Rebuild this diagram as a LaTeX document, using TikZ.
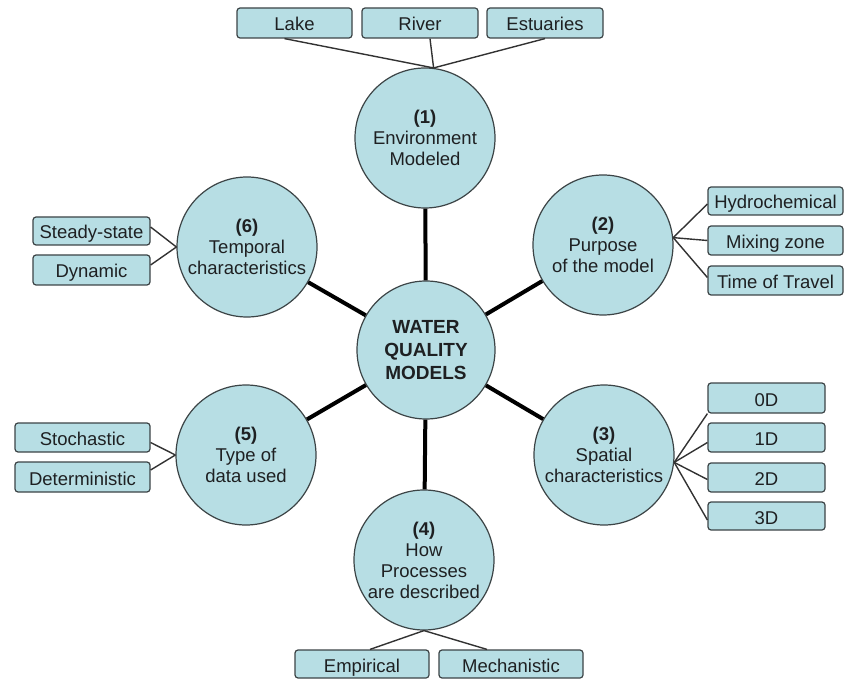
\documentclass[tikz,border=0pt]{standalone}
\usepackage{fontspec}
\setmainfont{Liberation Sans}
\definecolor{fillc}{RGB}{183,222,228}
\definecolor{bord}{RGB}{60,68,70}
\definecolor{txt}{RGB}{30,32,34}
\definecolor{linec}{RGB}{50,50,50}
\begin{document}
\begin{tikzpicture}[x=1pt,y=-1pt,
  circ/.style={circle,draw=bord,fill=fillc,line width=1.2pt,minimum size=140pt,inner sep=0pt,align=center,font=\fontsize{18.5}{21}\selectfont,text=txt},
  box/.style={rectangle,rounded corners=3pt,draw=bord,fill=fillc,line width=1.2pt,inner sep=0pt,text height=16pt,text depth=0pt,font=\fontsize{18.5}{20}\selectfont,text=txt},
  hub link/.style={line width=4pt,draw=black},
  leaf link/.style={line width=1.4pt,draw=linec}]
\useasboundingbox (0,0) rectangle (844,679);

% circles
\node[circ,minimum size=138pt,font=\bfseries\fontsize{19}{23}\selectfont] (c0) at (426,350) {WATER\\QUALITY\\MODELS};
\node[circ] (c1) at (425,138) {\textbf{(1)}\\Environment\\Modeled};
\node[circ] (c2) at (603,245) {\textbf{(2)}\\Purpose\\of the model};
\node[circ] (c3) at (604,455) {\textbf{(3)}\\Spatial\\characteristics};
\node[circ] (c4) at (424,560) {\textbf{(4)}\\How\\Processes\\are described};
\node[circ] (c5) at (246,455) {\textbf{(5)}\\Type of\\data used};
\node[circ] (c6) at (247,247) {\textbf{(6)}\\Temporal\\characteristics};

% boxes
\node[box,minimum width=115pt,minimum height=30pt] (lake) at (294.5,23) {Lake};
\node[box,minimum width=116pt,minimum height=30pt] (river) at (420,23) {River};
\node[box,minimum width=116pt,minimum height=30pt] (estu) at (545,23) {Estuaries};

\node[box,minimum width=135pt,minimum height=28pt] (hyd) at (775.5,201) {Hydrochemical};
\node[box,minimum width=135pt,minimum height=29pt] (mix) at (775.5,240.5) {Mixing zone};
\node[box,minimum width=135pt,minimum height=29pt] (tot) at (775.5,280.5) {Time of Travel};

\node[box,minimum width=117pt,minimum height=30pt] (d0) at (766.5,398) {0D};
\node[box,minimum width=117pt,minimum height=29pt] (d1) at (766.5,437.5) {1D};
\node[box,minimum width=117pt,minimum height=29pt] (d2) at (766.5,477.5) {2D};
\node[box,minimum width=117pt,minimum height=28pt] (d3) at (766.5,516) {3D};

\node[box,minimum width=117pt,minimum height=28pt] (steady) at (91.5,231) {Steady-state};
\node[box,minimum width=117pt,minimum height=30pt] (dyn) at (91.5,270) {Dynamic};

\node[box,minimum width=135pt,minimum height=29pt] (stoch) at (82.5,437.5) {Stochastic};
\node[box,minimum width=135pt,minimum height=30pt] (det) at (82.5,477) {Deterministic};

\node[box,minimum width=134pt,minimum height=28pt] (emp) at (362,664) {Empirical};
\node[box,minimum width=144pt,minimum height=28pt] (mech) at (511,664) {Mechanistic};

% hub links
\foreach \c in {c1,c2,c3,c4,c5,c6}
  \draw[hub link] (c0) -- (\c);

% leaf links
\draw[leaf link] ([xshift=-10pt]lake.south) -- (c1.83);
\draw[leaf link] ([xshift=10pt]river.south) -- (c1.83);
\draw[leaf link] (estu.south) -- (c1.83);

\draw[leaf link] ([yshift=-3pt]hyd.west) -- (c2.6);
\draw[leaf link] (mix.west) -- (c2.6);
\draw[leaf link] ([yshift=3pt]tot.west) -- (c2.6);

\draw[leaf link] (d0.south west) -- (c3.-6);
\draw[leaf link] ([yshift=-5pt]d1.west) -- (c3.-6);
\draw[leaf link] ([yshift=-2pt]d2.west) -- (c3.-6);
\draw[leaf link] ([yshift=-4pt]d3.west) -- (c3.-6);

\draw[leaf link] ([yshift=4pt]steady.east) -- (c6.180);
\draw[leaf link] ([yshift=5pt]dyn.east) -- (c6.180);

\draw[leaf link] ([yshift=-5pt]stoch.east) -- (c5.180);
\draw[leaf link] ([yshift=7pt]det.east) -- (c5.180);

\draw[leaf link] ([xshift=8pt]emp.north) -- (c4.south);
\draw[leaf link] ([xshift=-24pt]mech.north) -- (c4.south);
\end{tikzpicture}
\end{document}
